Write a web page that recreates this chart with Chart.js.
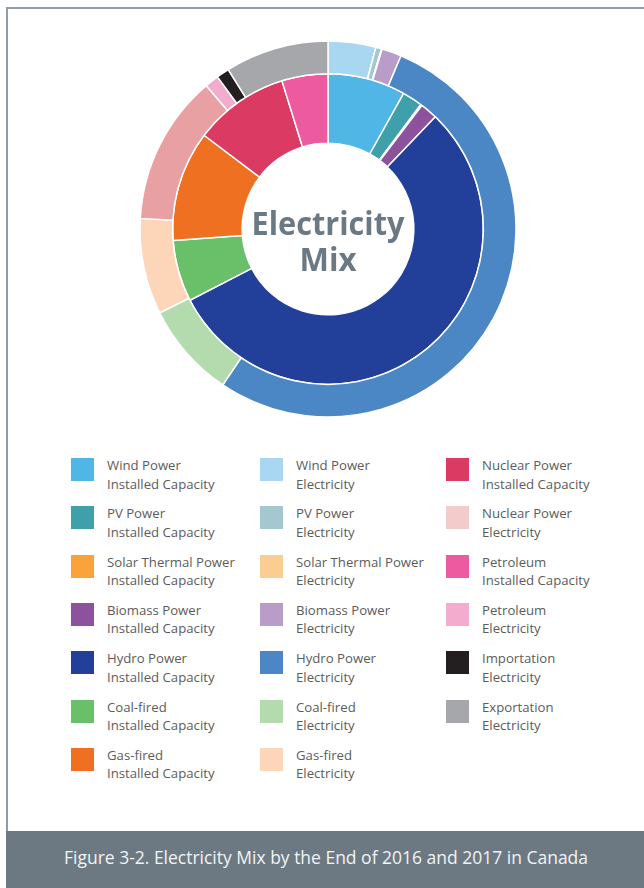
<!DOCTYPE html>
<html>
<head>
<meta charset="utf-8">
<script src="https://cdn.jsdelivr.net/npm/chart.js@4/dist/chart.umd.min.js"></script>
<style>
    html, body {
        margin: 0;
        padding: 0;
        background: #ffffff;
    }
    #page {
        position: relative;
        width: 644px;
        height: 888px;
        overflow: hidden;
        font-family: 'Open Sans', sans-serif;
    }
    #frame {
        position: absolute;
        left: 6px;
        top: 7px;
        width: 700px;
        height: 900px;
        border-left: 2px solid #909ea4;
        border-top: 2px solid #909ea4;
        box-sizing: border-box;
    }
    #mix {
        position: absolute;
        left: 128px;
        top: 29px;
    }
    .legend-item {
        position: absolute;
    }
    .legend-item .swatch {
        position: absolute;
        left: 0;
        top: 0;
        width: 23px;
        height: 23px;
    }
    .legend-item .text {
        position: absolute;
        top: -2px;
        white-space: nowrap;
        font-size: 13px;
        line-height: 18.6px;
        color: #5c5c5c;
        transform-origin: 0 0;
    }
    #caption {
        position: absolute;
        left: 6px;
        top: 831px;
        width: 638px;
        height: 57px;
        background: #6c7983;
    }
    #caption span {
        position: absolute;
        left: 0;
        top: 13px;
        white-space: nowrap;
        font-size: 18.5px;
        color: #f1f3f4;
        transform-origin: 0 0;
    }
</style>
</head>
<body>
<div id="page">
    <div id="frame"></div>
    <canvas id="mix" width="400" height="400"></canvas>
    <div id="legend"></div>
    <div id="caption"><span>Figure 3-2. Electricity Mix by the End of 2016 and 2017 in Canada</span></div>
</div>
<script>
const sources = ['Wind Power', 'PV Power', 'Solar Thermal Power', 'Biomass Power', 'Hydro Power',
    'Coal-fired', 'Gas-fired', 'Nuclear Power', 'Petroleum'];
const tradeFlows = ['Importation', 'Exportation'];

// shares in percent, inner ring = installed capacity, outer ring = electricity
const capacityShares = [8.1, 2.1, 0.15, 1.8, 55.3, 6.4, 11.5, 9.9, 4.8];
const electricityShares = [4.1, 0.5, 0.05, 1.7, 53.1, 8.2, 8.25, 12.9, 1.2, 1.1, 8.9];

const capacityColours = ['#4fb6e6', '#3fa0ab', '#f9a33a', '#8d529e', '#22409a',
    '#6abf69', '#f07022', '#db3b63', '#ee5aa0'];
const electricityColours = ['#a9d6f0', '#a3c8cf', '#fccd92', '#b99cc8', '#4c87c5',
    '#b3dbae', '#fdd5b8', '#e8a0a3', '#f4acce', '#231f20', '#a6a7ab'];
const legendSwatchOverrides = { 'Nuclear Power Electricity': '#f4cbcb' };

const electricityLabels = sources.concat(tradeFlows);

const centerLabel = {
    id: 'centerLabel',
    afterDraw(chart) {
        const { ctx } = chart;
        const arc = chart.getDatasetMeta(0).data[0];
        if (!arc) {
            return;
        }
        ctx.save();
        ctx.fillStyle = '#6b7984';
        ctx.textAlign = 'center';
        ctx.textBaseline = 'alphabetic';
        ctx.font = 'bold 33px "Open Sans"';
        ctx.fillText('Electricity', arc.x, arc.y + 6, 153);
        ctx.fillText('Mix', arc.x, arc.y + 42, 57);
        ctx.restore();
    },
};

new Chart(document.getElementById('mix'), {
    type: 'doughnut',
    data: {
        labels: electricityLabels,
        datasets: [
            {
                label: 'Electricity',
                data: electricityShares,
                backgroundColor: electricityColours,
                borderColor: '#ffffff',
                borderWidth: 1.5,
                weight: 1,
            },
            {
                label: 'Installed Capacity',
                data: capacityShares,
                backgroundColor: capacityColours,
                borderColor: '#ffffff',
                borderWidth: 1.5,
                weight: 2.13,
            },
        ],
    },
    options: {
        responsive: false,
        animation: false,
        radius: 188,
        cutout: 91,
        hoverOffset: 0,
        layout: { padding: 0 },
        plugins: {
            legend: { display: false },
            tooltip: { enabled: false },
        },
    },
    plugins: [centerLabel],
});

// three legend columns: capacity, electricity, then nuclear / petroleum / trade
const columnOne = sources.slice(0, 7).map((name, i) => ({
    lines: [name, 'Installed Capacity'], colour: capacityColours[i],
}));
const columnTwo = sources.slice(0, 7).map((name, i) => ({
    lines: [name, 'Electricity'], colour: electricityColours[i],
}));
const columnThree = [];
[7, 8].forEach((i) => {
    columnThree.push({ lines: [sources[i], 'Installed Capacity'], colour: capacityColours[i] });
    columnThree.push({ lines: [sources[i], 'Electricity'], colour: electricityColours[i] });
});
tradeFlows.forEach((name, j) => {
    columnThree.push({ lines: [name, 'Electricity'], colour: electricityColours[9 + j] });
});

const columns = [
    { items: columnOne, x: 71, textX: 36 },
    { items: columnTwo, x: 260, textX: 36 },
    { items: columnThree, x: 446, textX: 36 },
];

const legend = document.getElementById('legend');
const textNodes = [];
columns.forEach((col) => {
    col.items.forEach((item, row) => {
        const el = document.createElement('div');
        el.className = 'legend-item';
        el.style.left = col.x + 'px';
        el.style.top = (458 + row * 48.3) + 'px';
        const sw = document.createElement('div');
        sw.className = 'swatch';
        sw.style.background = legendSwatchOverrides[item.lines.join(' ')] || item.colour;
        const txt = document.createElement('div');
        txt.className = 'text';
        txt.style.left = col.textX + 'px';
        txt.innerHTML = item.lines.join('<br>');
        el.appendChild(sw);
        el.appendChild(txt);
        legend.appendChild(el);
        textNodes.push(txt);
    });
});

// the printed face is condensed, squeeze Open Sans to the same widths
const measure = document.createElement('canvas').getContext('2d');
measure.font = '13px "Open Sans"';
const legendScale = 107.5 / measure.measureText('Installed Capacity').width;
textNodes.forEach((t) => { t.style.transform = 'scaleX(' + legendScale + ')'; });

const caption = document.querySelector('#caption span');
measure.font = '18.5px "Open Sans"';
const captionWidth = measure.measureText(caption.textContent).width;
const captionScale = 524 / captionWidth;
caption.style.transform = 'scaleX(' + captionScale + ')';
caption.style.left = (64 - 6) + 'px';
</script>
</body>
</html>
